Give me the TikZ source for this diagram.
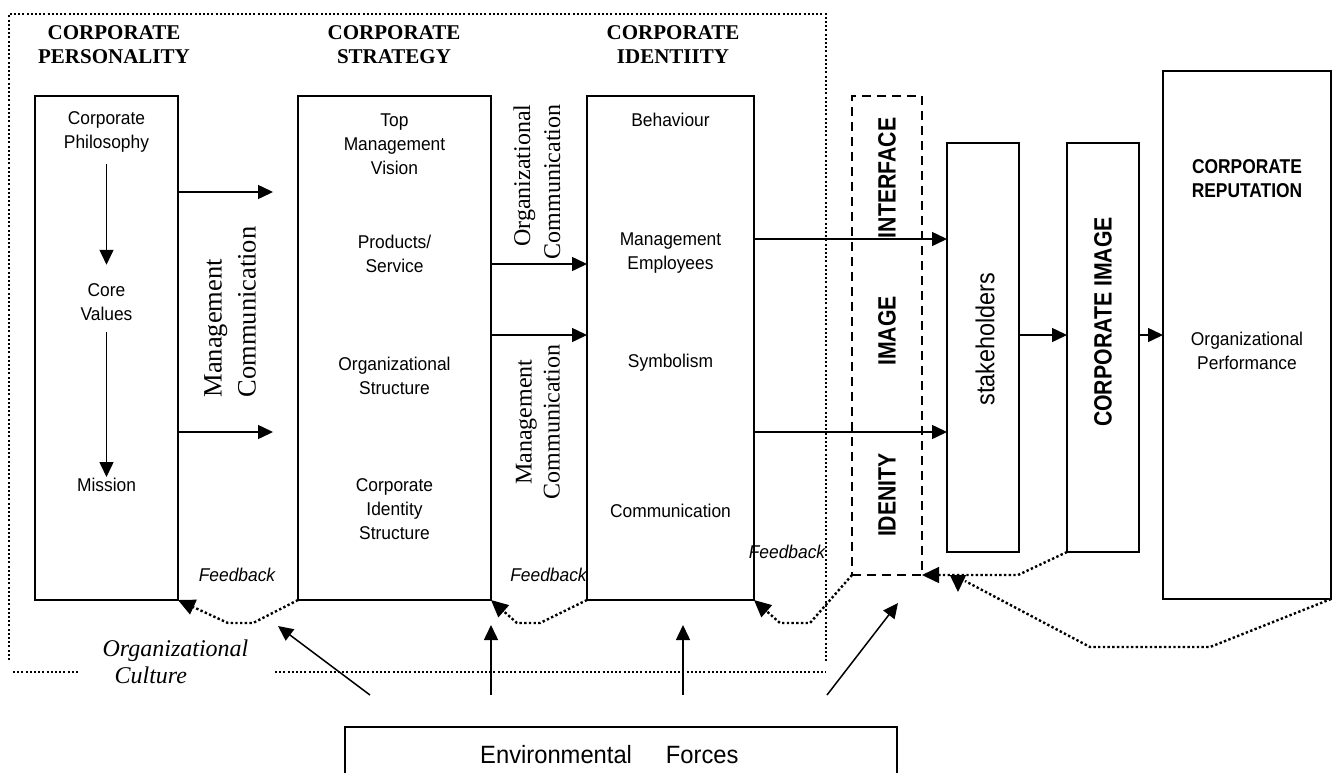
\documentclass[tikz,border=0pt]{standalone}
\usepackage{fontspec}
\setmainfont{Liberation Serif}
\newfontfamily\bodysans[FakeStretch=0.94]{Liberation Sans}
\newfontfamily\headsans[FakeStretch=0.87]{Liberation Sans}
\newfontfamily\sidesans[FakeStretch=0.85]{Liberation Sans}
\newfontfamily\stakesans[FakeStretch=0.9]{Liberation Sans}
\newfontfamily\envsans[FakeStretch=0.95]{Liberation Sans}
\usetikzlibrary{arrows.meta,calc}

\tikzset{
  box/.style={draw, line width=1.6pt, inner sep=0pt, outer sep=0pt},
  dashbox/.style={draw, line width=1.8pt, dash pattern=on 9pt off 6pt, inner sep=0pt, outer sep=0pt},
  body/.style={font=\bodysans\fontsize{18.5}{24}\selectfont, align=center, inner sep=0pt},
  headtxt/.style={font=\headsans\fontsize{20}{24}\selectfont\bfseries, align=center, inner sep=0pt},
  title/.style={font=\fontsize{21}{24}\selectfont\bfseries, align=center, inner sep=0pt},
  fbtxt/.style={font=\bodysans\fontsize{18.5}{24}\selectfont\itshape, inner sep=0pt},
  sidetxt/.style={font=\sidesans\fontsize{25}{28}\selectfont\bfseries, rotate=90, inner sep=0pt},
  commtxt/.style={rotate=90, inner sep=0pt},
  arr/.style={line width=1.5pt, -{Triangle[length=15pt,width=14pt]}},
  fbhead/.style={line width=1.5pt, -{Triangle[length=17pt,width=16pt]}},
  frameline/.style={line width=2pt, dash pattern=on 2pt off 2.2pt},
  fbline/.style={line width=2.4pt, dash pattern=on 2.4pt off 2.3pt},
}

\begin{document}
\begin{tikzpicture}[x=1pt,y=-1pt]
\clip (0,0) rectangle (1337,772);
\fill[white] (0,0) rectangle (1337,772);

% outer dotted frame of the organisation
\draw[frameline] (9,660) -- (9,14) -- (826,14) -- (826,662);
\draw[frameline] (13,672) -- (78,672);
\draw[frameline] (275,672) -- (826,672);

% column titles
\node[title] (tpers) at (114,45) {CORPORATE\\PERSONALITY};
\node[title] (tstrat) at (394,45) {CORPORATE\\STRATEGY};
\node[title] (tident) at (673,45) {CORPORATE\\IDENTIITY};

% main boxes
\node[box, minimum width=143pt, minimum height=504pt] (pers) at (106.5,348) {};
\node[box, minimum width=193pt, minimum height=504pt] (strat) at (394.5,348) {};
\node[box, minimum width=167pt, minimum height=504pt] (ident) at (670.5,348) {};
\node[dashbox, minimum width=70pt, minimum height=479pt] (iface) at (887,335.5) {};
\node[box, minimum width=72pt, minimum height=409pt] (stake) at (983,347.5) {};
\node[box, minimum width=72pt, minimum height=409pt] (cimg) at (1103,347.5) {};
\node[box, minimum width=168pt, minimum height=528pt] (rep) at (1247,335) {};
\node[box, minimum width=552pt, minimum height=73pt] (env) at (621,763.5) {};

% corporate personality
\node[body] (p1) at (106.5,131.5) {Corporate\\Philosophy};
\node[body] (p2) at (106.5,302.5) {Core\\Values};
\node[body] (p3) at (106.5,485) {Mission};
\draw[arr, shorten <=12pt, shorten >=19pt] (p1) -- (p2);
\draw[arr, shorten <=11pt, shorten >=1pt] (p2) -- (p3);

% corporate strategy
\node[body] (s1) at (394.5,144) {Top\\Management\\Vision};
\node[body] (s2) at (394.5,253.5) {Products/\\Service};
\node[body] (s3) at (394.5,375.5) {Organizational\\Structure};
\node[body] (s4) at (394.5,509.5) {Corporate\\Identity\\Structure};

% corporate identity
\node[body] (i1) at (670.5,120) {Behaviour};
\node[body] (i2) at (670.5,253.5) {Management\\Employees};
\node[body] (i3) at (670.5,363) {Symbolism};
\node[body] (i4) at (670.5,511) {Communication};

% reputation
\node[headtxt] (r1) at (1247,179) {CORPORATE\\REPUTATION};
\node[body] (r2) at (1247,351) {Organizational\\Performance};

% vertical labels
\node[sidetxt] (v1) at (887,178) {INTERFACE};
\node[sidetxt] (v2) at (887,331) {IMAGE};
\node[sidetxt] (v3) at (887,495) {IDENITY};
\node[sidetxt] (v4) at (1103,322) {CORPORATE IMAGE};
\node[commtxt, font=\stakesans\fontsize{26}{28}\selectfont] (v5) at (985,339) {stakeholders};

% communication labels
\node[commtxt, align=left, font=\fontsize{26.5}{34}\selectfont] (c1) at (230,312) {Management\\Communication};
\node[commtxt, align=right, font=\fontsize{24}{30}\selectfont] (c2) at (537,182) {Organizational\\Communication};
\node[commtxt, align=center, font=\fontsize{24}{28}\selectfont] (c3) at (538,422) {Management\\Communication};

% flows between the columns
\draw[arr, shorten >=25pt] ([yshift=-96pt]pers.north east) -- ([yshift=-96pt]strat.north west);
\draw[arr, shorten >=25pt] ([yshift=-336pt]pers.north east) -- ([yshift=-336pt]strat.north west);
\draw[arr] ([yshift=-168pt]strat.north east) -- ([yshift=-168pt]ident.north west);
\draw[arr] ([yshift=-239pt]strat.north east) -- ([yshift=-239pt]ident.north west);
\path ([yshift=-143pt]ident.north east) coordinate (ia)
      ([yshift=-336pt]ident.north east) coordinate (ib);
\draw[arr] (ia) -- (ia -| stake.west);
\draw[arr] (ib) -- (ib -| stake.west);
\draw[arr] ([yshift=-192pt]stake.north east) -- ([yshift=-192pt]cimg.north west);
\path ([yshift=-192pt]cimg.north east) coordinate (ic);
\draw[arr] (ic) -- (ic -| rep.west);

% feedback texts
\node[fbtxt] (f1) at (237,575) {Feedback};
\node[fbtxt] (f2) at (548.5,575) {Feedback};
\node[fbtxt] (f3) at (787,552) {Feedback};
\fill[white] ([xshift=-0.8pt]ident.north east) rectangle ([xshift=-1pt]ident.south east);
\draw[line width=1.6pt] (ident.north east) -- (ident.south east);

% feedback loops: dotted run, solid head on the last stretch
\coordinate (k1) at (253,623); \coordinate (k2) at (228,623);
\coordinate (h1) at ($(pers.south east)!17pt!(k2)$);
\draw[fbline] (strat.south west) -- (k1) -- (k2) -- (h1);
\draw[fbhead] (h1) -- (pers.south east);

\coordinate (k3) at (540,623); \coordinate (k4) at (517,623);
\coordinate (h2) at ($(strat.south east)!17pt!(k4)$);
\draw[fbline] (ident.south west) -- (k3) -- (k4) -- (h2);
\draw[fbhead] (h2) -- (strat.south east);

\coordinate (k5) at (810,623); \coordinate (k6) at (780,623);
\coordinate (h3) at ($(ident.south east)!17pt!(k6)$);
\draw[fbline] (iface.south west) -- (k5) -- (k6) -- (h3);
\draw[fbhead] (h3) -- (ident.south east);

\coordinate (k7) at (1018,575);
\coordinate (h4) at ($(iface.south east)!17pt!(k7)$);
\draw[fbline] (cimg.south west) -- (k7) -- (h4);
\draw[fbhead] (h4) -- (iface.south east);

\coordinate (k8) at (1210,647); \coordinate (k9) at (1090,647);
\coordinate (h5) at (958,575); \coordinate (t5) at (958,592);
\draw[fbline] (rep.south east) -- (k8) -- (k9) -- (965,581);
\draw[fbhead] (h5) -- (t5);

% organizational culture
\node[align=left, inner sep=0pt, font=\fontsize{24}{27}\selectfont\itshape] (oc) at (175.5,661.5) {Organizational\\\hspace*{12pt}Culture};

% environmental forces
\node[anchor=base west, inner sep=0pt, font=\envsans\fontsize{25}{28}\selectfont] (envt) at (480,763) {Environmental\hspace{34pt}Forces};
\coordinate (ea0) at (370,695); \coordinate (ea1) at (278,626);
\coordinate (eb0) at (491,695); \coordinate (eb1) at (491,625);
\coordinate (ec0) at (683,695); \coordinate (ec1) at (683,625);
\coordinate (ed0) at (827,695); \coordinate (ed1) at (898,603);
\draw[arr] (ea0) -- (ea1);
\draw[arr] (eb0) -- (eb1);
\draw[arr] (ec0) -- (ec1);
\draw[arr] (ed0) -- (ed1);
\end{tikzpicture}
\end{document}
